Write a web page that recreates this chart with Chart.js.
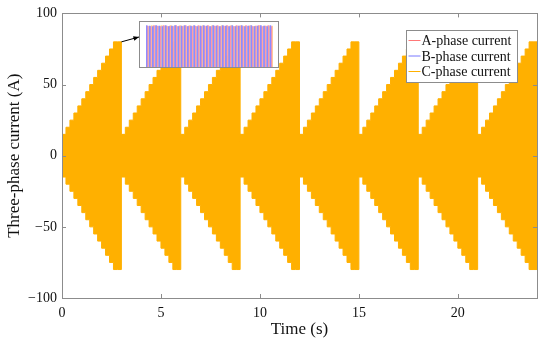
<!doctype html>
<html lang="en">
<head>
<meta charset="utf-8">
<title>Three-phase current</title>
<script src="https://cdn.jsdelivr.net/npm/chart.js@4.4.1/dist/chart.umd.min.js"></script>
<style>
  body { margin: 0; background: #fff; }
  #wrap { position: relative; width: 550px; height: 344px; }
  #main { position: absolute; left: 0; top: 0; }
  #inset { position: absolute; left: 139px; top: 21px; }
</style>
</head>
<body>
<div id="wrap">
  <canvas id="main" width="550" height="344"></canvas>
  <canvas id="inset" width="140" height="47"></canvas>
</div>
<script>
// envelope of the three-phase current, one 3 s cycle repeated
const stepTimes = [0, 0.2, 0.4, 0.6, 0.8, 1.0, 1.2, 1.4, 1.6, 1.8, 2.0, 2.2, 2.4, 2.6, 2.8];
const stepLevels = [10, 15, 20, 25, 30, 35, 40, 45, 50, 55, 60, 65, 70, 75, 80];
const cycleStarts = [0, 3, 6, 9, 12, 15, 18, 21];
const cycleLength = 3;

const xTicks = [0, 5, 10, 15, 20];
const yTicks = [-100, -50, 0, 50, 100];

const seriesNames = ['A-phase current', 'B-phase current', 'C-phase current'];
const seriesColors = ['#ff7878', '#7878ff', '#ffb000'];

// zoomed peaks shown in the inset
const insetA = [89, 88, 90, 89, 88, 90, 89, 89, 88, 90, 89, 88, 90, 89, 88, 89, 90, 88, 89, 90,
                88, 89, 90, 88, 89, 90, 89, 88, 90, 89, 88, 90, 89, 88, 89, 90, 88, 89, 90, 88];
const insetB = [90, 89, 88, 90, 89, 88, 90, 88, 89, 90, 88, 89, 90, 88, 89, 90, 88, 89, 90, 89,
                88, 90, 89, 88, 90, 89, 88, 90, 88, 89, 90, 88, 89, 90, 88, 89, 90, 89, 88, 90];
const insetC = [88, 90, 89, 88, 90, 89, 88, 90, 89, 88, 90, 89, 88, 90, 89, 88, 89, 90, 88, 89,
                90, 88, 89, 90, 88, 89, 90, 88, 89, 90, 89, 88, 90, 88, 89, 90, 88, 89, 88, 89];

const upper = [];
const lower = [];
cycleStarts.forEach(start => {
    stepTimes.forEach((t, k) => {
        upper.push({x: start + t, y: stepLevels[k]});
        lower.push({x: start + t, y: -stepLevels[k]});
    });
    const last = stepLevels[stepLevels.length - 1];
    upper.push({x: start + cycleLength, y: last});
    lower.push({x: start + cycleLength, y: -last});
});

const serif = '"Liberation Serif", "Times New Roman", serif';
const minus = v => v < 0 ? '\u2212' + Math.abs(v) : String(v);

// box, inward ticks on all four sides, legend and arrow
const frame = {
    id: 'frame',
    afterDraw(chart) {
        const ctx = chart.ctx;
        const a = chart.chartArea;
        const xs = chart.scales.x, ys = chart.scales.y;
        ctx.save();
        ctx.strokeStyle = '#8c8c8c';
        ctx.lineWidth = 1;
        ctx.strokeRect(Math.round(a.left) + 0.5, Math.round(a.top) + 0.5,
                       Math.round(a.right - a.left), Math.round(a.bottom - a.top));
        ctx.beginPath();
        xTicks.forEach(v => {
            const px = Math.round(xs.getPixelForValue(v)) + 0.5;
            ctx.moveTo(px, a.bottom); ctx.lineTo(px, a.bottom - 4);
            ctx.moveTo(px, a.top); ctx.lineTo(px, a.top + 4);
        });
        yTicks.forEach(v => {
            const py = Math.round(ys.getPixelForValue(v)) + 0.5;
            ctx.moveTo(a.left, py); ctx.lineTo(a.left + 4, py);
            ctx.moveTo(a.right, py); ctx.lineTo(a.right - 4, py);
        });
        ctx.stroke();

        // arrow from the first peak to the inset
        const sx = xs.getPixelForValue(cycleStarts[0] + cycleLength);
        const sy = ys.getPixelForValue(stepLevels[stepLevels.length - 1]);
        const ex = 139, ey = 37;
        const ang = Math.atan2(ey - sy, ex - sx);
        ctx.strokeStyle = '#000';
        ctx.fillStyle = '#000';
        ctx.beginPath();
        ctx.moveTo(sx, sy); ctx.lineTo(ex, ey);
        ctx.stroke();
        ctx.beginPath();
        ctx.moveTo(ex, ey);
        ctx.lineTo(ex - 6 * Math.cos(ang - 0.4), ey - 6 * Math.sin(ang - 0.4));
        ctx.lineTo(ex - 6 * Math.cos(ang + 0.4), ey - 6 * Math.sin(ang + 0.4));
        ctx.closePath();
        ctx.fill();

        // legend
        const lx = 406.5, ly = 30.5, lw = 111, lh = 52;
        ctx.fillStyle = '#fff';
        ctx.fillRect(lx, ly, lw, lh);
        ctx.strokeStyle = '#8c8c8c';
        ctx.strokeRect(lx, ly, lw, lh);
        ctx.font = '14px ' + serif;
        ctx.textBaseline = 'middle';
        seriesNames.forEach((name, i) => {
            const y = ly + 10 + i * 15.5;
            ctx.strokeStyle = seriesColors[i];
            ctx.beginPath();
            ctx.moveTo(lx + 2, y); ctx.lineTo(lx + 14, y);
            ctx.stroke();
            ctx.fillStyle = '#111';
            ctx.fillText(name, lx + 15, y + 1);
        });
        ctx.restore();
    }
};

new Chart(document.getElementById('main'), {
    type: 'line',
    data: {
        datasets: [
            {label: seriesNames[2], data: upper, stepped: 'after', fill: '+1',
             borderColor: seriesColors[2], backgroundColor: seriesColors[2], borderWidth: 1, pointRadius: 0},
            {label: seriesNames[2], data: lower, stepped: 'after', fill: false,
             borderColor: seriesColors[2], backgroundColor: seriesColors[2], borderWidth: 1, pointRadius: 0}
        ]
    },
    options: {
        responsive: false,
        animation: false,
        events: [],
        layout: {padding: {top: 13, right: 13, left: 0, bottom: 0}},
        plugins: {legend: {display: false}, tooltip: {enabled: false}},
        scales: {
            x: {
                type: 'linear', min: 0, max: 24,
                afterBuildTicks: s => { s.ticks = xTicks.map(v => ({value: v})); },
                afterFit: s => { s.height = 46; },
                grid: {display: false, drawTicks: false},
                border: {display: false},
                ticks: {padding: 7, color: '#111', font: {family: serif, size: 14}, callback: minus, maxRotation: 0},
                title: {display: true, text: 'Time (s)', color: '#111', font: {family: serif, size: 17}, padding: {top: 0}}
            },
            y: {
                type: 'linear', min: -100, max: 100,
                afterBuildTicks: s => { s.ticks = yTicks.map(v => ({value: v})); },
                afterFit: s => { s.width = 62; },
                grid: {display: false, drawTicks: false},
                border: {display: false},
                ticks: {padding: 5, color: '#111', font: {family: serif, size: 14}, callback: minus},
                title: {display: true, text: 'Three-phase current (A)', color: '#111', font: {family: serif, size: 17}, padding: {bottom: 0}}
            }
        }
    },
    plugins: [frame]
});

// inset: zoomed waveform
const insetBox = {
    id: 'insetBox',
    afterDraw(chart) {
        const ctx = chart.ctx;
        ctx.save();
        ctx.strokeStyle = '#8c8c8c';
        ctx.lineWidth = 1;
        ctx.strokeRect(0.5, 0.5, chart.width - 1, chart.height - 1);
        ctx.restore();
    }
};

new Chart(document.getElementById('inset'), {
    type: 'bar',
    data: {
        labels: insetA.map((v, i) => i),
        datasets: [
            {label: seriesNames[1], data: insetB, backgroundColor: 'rgb(140,140,255)'},
            {label: seriesNames[0], data: insetA, backgroundColor: 'rgb(255,150,165)'},
            {label: seriesNames[2], data: insetC, backgroundColor: 'rgb(255,218,150)'}
        ]
    },
    options: {
        responsive: false,
        animation: false,
        events: [],
        layout: {padding: {left: 7, right: 6, top: 0, bottom: 1}},
        plugins: {legend: {display: false}, tooltip: {enabled: false}},
        datasets: {bar: {barPercentage: 1, categoryPercentage: 1}},
        scales: {
            x: {display: false},
            y: {display: false, min: 0, max: 100}
        }
    },
    plugins: [insetBox]
});
</script>
</body>
</html>
